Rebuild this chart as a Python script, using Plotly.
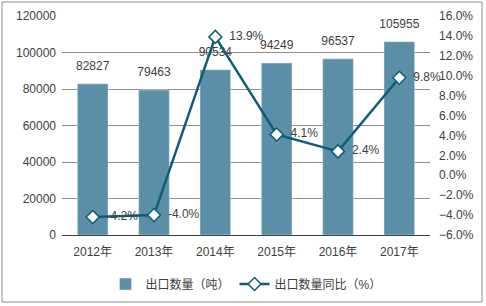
import plotly.graph_objects as go

years = ["2012年", "2013年", "2014年", "2015年", "2016年", "2017年"]
export_qty = [82827, 79463, 90534, 94249, 96537, 105955]
yoy_pct = [-4.2, -4.0, 13.9, 4.1, 2.4, 9.8]

bar_name = "出口数量（吨）"
line_name = "出口数量同比（%）"

FONT = "Liberation Sans, Arial, Noto Sans CJK SC, sans-serif"
TXT = "#404040"

fig = go.Figure()
fig.add_trace(go.Bar(
    x=years, y=export_qty, name=bar_name,
    marker=dict(color="#5B8FA8"), width=0.5,
))
fig.add_trace(go.Scatter(
    x=years, y=export_qty, mode="markers+text", showlegend=False, hoverinfo="skip",
    marker=dict(size=16, color="rgba(0,0,0,0)"),
    text=[str(v) for v in export_qty], textposition="top center",
    textfont=dict(size=12, color=TXT, family=FONT), cliponaxis=False,
))
fig.add_trace(go.Scatter(
    x=years, y=yoy_pct, name=line_name, yaxis="y2", mode="lines+markers+text",
    line=dict(color="#0E5C75", width=2.5),
    marker=dict(symbol="diamond", size=10, color="white", line=dict(color="#0E5C75", width=1.5)),
    text=[f"  {v:.1f}%" for v in yoy_pct], textposition="middle right",
    textfont=dict(size=12, color=TXT, family=FONT), cliponaxis=False,
))

L, R, T, B = 62, 56, 16, 71
W, H = 486, 306
pw, ph = W - L - R, H - T - B

def px(x):
    return (x - L) / pw

def py(y):
    return (H - B - y) / ph

fig.update_layout(
    width=W, height=H, margin=dict(l=L, r=R, t=T, b=B, autoexpand=False),
    paper_bgcolor="white", plot_bgcolor="white",
    font=dict(family=FONT, size=12, color=TXT),
    showlegend=True,
    legend=dict(orientation="h", x=0.5, xanchor="center", y=py(284), yanchor="middle",
                font=dict(size=12, color=TXT, family=FONT), itemwidth=30, tracegroupgap=0),
    xaxis=dict(showgrid=False, showline=True, linecolor="#404040", linewidth=1,
               ticks="", tickfont=dict(size=12, color=TXT), ticklabelstandoff=6,
               automargin=False),
    yaxis=dict(range=[0, 120000], dtick=20000, showgrid=True, gridcolor="#8C8C8C",
               gridwidth=1, zeroline=False, showline=False, ticks="",
               tickfont=dict(size=12, color=TXT), tickformat="d", ticklabelstandoff=5,
               automargin=False),
    yaxis2=dict(range=[-6, 16], dtick=2, overlaying="y", side="right", showgrid=False,
                zeroline=False, showline=False, ticks="", ticksuffix="%",
                tickformat=".1f", tickfont=dict(size=12, color=TXT), ticklabelstandoff=8,
                automargin=False),
    bargap=0.5,
    shapes=[dict(type="rect", xref="paper", yref="paper",
                 x0=px(2), x1=px(482), y0=py(2), y1=py(302),
                 line=dict(color="#8C8C8C", width=1), fillcolor="rgba(0,0,0,0)", layer="below")],
)

fig.write_html("out.html")
